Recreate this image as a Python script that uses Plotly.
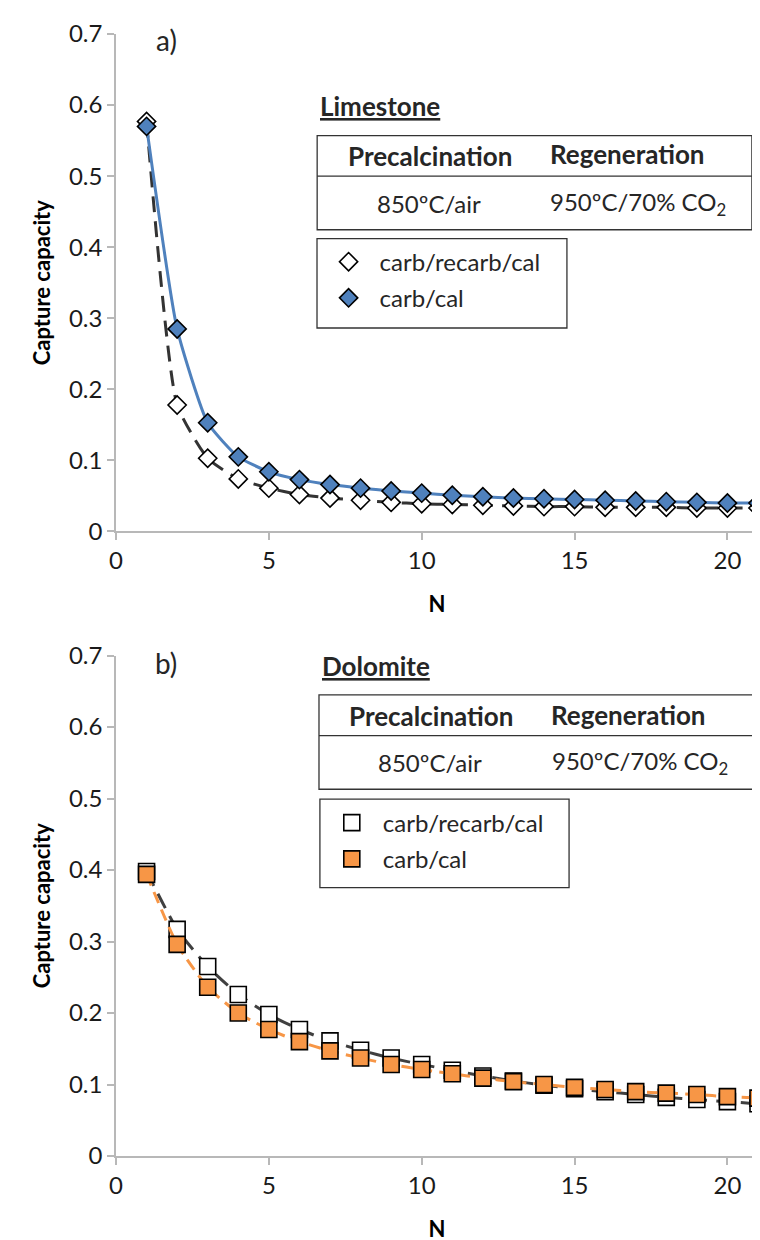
import plotly.graph_objects as go

# ---------------- data ----------------
N = list(range(1, 22))

lime_recarb = [0.577, 0.178, 0.103, 0.074, 0.061, 0.052, 0.047, 0.044, 0.041, 0.039, 0.038,
               0.037, 0.036, 0.035, 0.035, 0.034, 0.034, 0.034, 0.033, 0.033, 0.033]
lime_carbcal = [0.570, 0.285, 0.153, 0.105, 0.084, 0.073, 0.066, 0.061, 0.057, 0.054, 0.051,
                0.049, 0.047, 0.046, 0.045, 0.044, 0.043, 0.042, 0.041, 0.040, 0.040]

dolo_recarb = [0.398, 0.317, 0.265, 0.226, 0.198, 0.177, 0.161, 0.148, 0.137, 0.128, 0.120,
               0.112, 0.105, 0.099, 0.094, 0.090, 0.086, 0.082, 0.079, 0.076, 0.073]
dolo_carbcal = [0.394, 0.296, 0.236, 0.200, 0.177, 0.160, 0.147, 0.137, 0.128, 0.121, 0.115,
                0.109, 0.104, 0.100, 0.096, 0.093, 0.090, 0.088, 0.086, 0.083, 0.081]

series_names = ["carb/recarb/cal", "carb/cal"]
x_ticks = [0, 5, 10, 15, 20]
y_ticks = [0, 0.1, 0.2, 0.3, 0.4, 0.5, 0.6, 0.7]

FONT = "Lato"
TXT = "#262626"
BLUE = "#4F81BD"
ORANGE = "#F79646"
GRAY = "#333333"
BOX = "#333333"

fig = go.Figure()


def add_series(xa, ya, y, line_color, dash, symbol, fill, name, legend, size):
    fig.add_trace(go.Scatter(
        x=N, y=y, xaxis=xa, yaxis=ya, mode="lines",
        line=dict(color=line_color, width=3, dash=dash, shape="spline", smoothing=0.5),
        showlegend=False, hoverinfo="skip"))
    fig.add_trace(go.Scatter(
        x=N, y=y, xaxis=xa, yaxis=ya, mode="markers", name=name,
        marker=dict(symbol=symbol, size=size, color=fill, line=dict(color="black", width=1.6)),
        legend=legend, legendgroup=legend + name))


# top panel (limestone)
add_series("x", "y", lime_recarb, GRAY, "16px,9px", "diamond", "white", series_names[0], "legend", 14)
add_series("x", "y", lime_carbcal, BLUE, "solid", "diamond", BLUE, series_names[1], "legend", 14)
# bottom panel (dolomite)
add_series("x2", "y2", dolo_recarb, "#404040", "16px,9px", "square", "white", series_names[0], "legend2", 16)
add_series("x2", "y2", dolo_carbcal, ORANGE, "12px,7px", "square", ORANGE, series_names[1], "legend2", 16)

axis_common = dict(
    showline=True, linecolor="#b8b8b8", linewidth=1.5,
    ticks="outside", tickcolor="#b8b8b8", ticklen=7, tickwidth=1.5,
    showgrid=False, zeroline=False,
    tickfont=dict(family=FONT, size=24, color="#1a1a1a"),
)

xa = dict(axis_common, range=[0, 21], tickvals=x_ticks, domain=[0, 1],
          title=dict(text="<b>N</b>", font=dict(family=FONT, size=22, color="black"), standoff=24))
ya = dict(axis_common, range=[0, 0.7], tickvals=y_ticks,
          title=dict(text="<b>Capture capacity</b>", font=dict(family=FONT, size=22, color="black"), standoff=12))

legend_common = dict(xanchor="left", yanchor="top",
                     borderwidth=0, bgcolor="rgba(0,0,0,0)",
                     font=dict(family=FONT, size=24, color=TXT), tracegroupgap=2,
                     itemsizing="trace", itemwidth=52)

fig.update_layout(
    width=760, height=1240,
    margin=dict(l=108, r=10, t=26, b=84),
    paper_bgcolor="white", plot_bgcolor="white",
    font=dict(family=FONT, color=TXT),
    xaxis=dict(xa, anchor="y"),
    yaxis=dict(ya, domain=[0.5566, 1.0], anchor="x"),
    xaxis2=dict(xa, anchor="y2"),
    yaxis2=dict(ya, domain=[0.0, 0.446], anchor="x2"),
    legend=dict(legend_common, x=0.314, y=0.8168),
    legend2=dict(legend_common, x=0.319, y=0.3168),
)

# ---------- annotation helpers ----------
def txt(xr, yr, x, y, text, bold=False, size=24, xanchor="center", under=False):
    f = dict(family=FONT, size=size, color=TXT)
    if bold:
        f["weight"] = "bold"
    if under:
        f["lineposition"] = "under"
    fig.add_annotation(xref=xr, yref=yr, x=x, y=y, text=text, showarrow=False,
                       xanchor=xanchor, yanchor="middle", font=f)


def box(xr, yr, x0, x1, y0, y1):
    fig.add_shape(type="rect", xref=xr, yref=yr, x0=x0, x1=x1, y0=y0, y1=y1,
                  line=dict(color=BOX, width=1.3), fillcolor="white", layer="above")


def hline(xr, yr, x0, x1, y):
    fig.add_shape(type="line", xref=xr, yref=yr, x0=x0, x1=x1, y0=y, y1=y,
                  line=dict(color=BOX, width=1.3), layer="above")


# top panel annotations
txt("x", "y", 1.64, 0.692, "a)", size=28)
txt("x", "y", 6.62, 0.599, "Limestone", bold=True, xanchor="left", under=True, size=26)
box("x", "y", 6.58, 20.8, 0.4246, 0.557)
hline("x", "y", 6.58, 20.8, 0.5)
txt("x", "y", 10.27, 0.528, "Precalcination", bold=True, size=26)
txt("x", "y", 16.72, 0.531, "Regeneration", bold=True, size=26)
txt("x", "y", 10.24, 0.462, "850ºC/air")
txt("x", "y", 17.08, 0.462, "950ºC/70% CO<sub>2</sub>")
box("x", "y", 6.575, 14.75, 0.2863, 0.412)

# bottom panel annotations
txt("x2", "y2", 1.64, 0.69, "b)", size=28)
txt("x2", "y2", 6.67, 0.686, "Dolomite", bold=True, xanchor="left", under=True, size=26)
box("x2", "y2", 6.64, 20.87, 0.513, 0.645)
hline("x2", "y2", 6.64, 20.87, 0.588)
txt("x2", "y2", 10.3, 0.616, "Precalcination", bold=True, size=26)
txt("x2", "y2", 16.78, 0.6175, "Regeneration", bold=True, size=26)
txt("x2", "y2", 10.27, 0.551, "850ºC/air")
txt("x2", "y2", 17.14, 0.551, "950ºC/70% CO<sub>2</sub>")
box("x2", "y2", 6.67, 14.82, 0.3755, 0.4993)

fig.write_html("out.html")
